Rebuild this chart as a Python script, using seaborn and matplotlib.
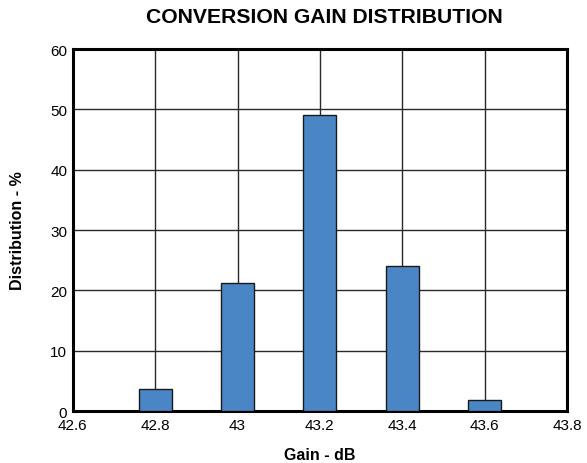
import matplotlib
matplotlib.use("Agg")
import matplotlib.pyplot as plt
import seaborn as sns
import pandas as pd

# Gain bins (dB) and share of units in each bin (%)
gain_db = [42.8, 43.0, 43.2, 43.4, 43.6]
distribution_pct = [3.7, 21.3, 49.0, 24.0, 1.8]
x_ticks = [42.6, 42.8, 43.0, 43.2, 43.4, 43.6, 43.8]
x_tick_labels = ["42.6", "42.8", "43", "43.2", "43.4", "43.6", "43.8"]
y_ticks = [0, 10, 20, 30, 40, 50, 60]

sns.set_style("white")
plt.rcParams["font.family"] = ["Liberation Sans", "DejaVu Sans"]
plt.rcParams["text.color"] = "black"
plt.rcParams["axes.labelcolor"] = "black"
plt.rcParams["xtick.color"] = "black"
plt.rcParams["ytick.color"] = "black"

df = pd.DataFrame({"gain": gain_db, "dist": distribution_pct})

fig = plt.figure(figsize=(5.87, 4.64), dpi=100)
ax = fig.add_axes([0.124, 0.112, 0.842, 0.780])

sns.barplot(data=df, x="gain", y="dist", native_scale=True, width=0.4,
            color="#4a86c6", saturation=1, edgecolor="#1a1a1a",
            linewidth=1.0, ax=ax, zorder=3)

ax.set_xlim(42.6, 43.8)
ax.set_ylim(0, 60)
ax.set_xticks(x_ticks)
ax.set_xticklabels(x_tick_labels)
ax.set_yticks(y_ticks)

ax.grid(True, color="#2a2a2a", linewidth=1.0, zorder=0)
ax.set_axisbelow(True)

for side in ["left", "right", "top", "bottom"]:
    ax.spines[side].set_visible(True)
    ax.spines[side].set_color("black")
    ax.spines[side].set_linewidth(2.2)

ax.tick_params(axis="x", length=2, color="#999999", labelcolor="black",
               labelsize=11, pad=3)
ax.tick_params(axis="y", length=0, labelcolor="black", labelsize=11, pad=4)

ax.set_xlabel("Gain - dB", fontsize=11.5, fontweight="bold", labelpad=11)
ax.set_ylabel("Distribution - %", fontsize=11.5, fontweight="bold",
              labelpad=18)
ax.set_title("CONVERSION GAIN DISTRIBUTION", fontsize=15.2,
             fontweight="bold", pad=19.5, x=0.51)

fig.savefig("out.png", dpi=100)
